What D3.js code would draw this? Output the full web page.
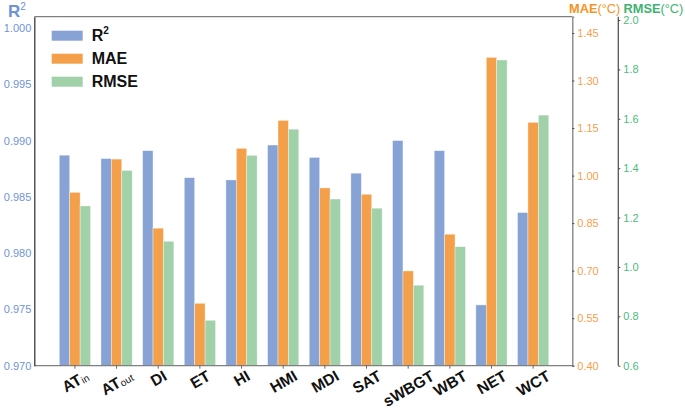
<!DOCTYPE html>
<html>
<head>
<meta charset="utf-8">
<script src="https://cdn.jsdelivr.net/npm/d3@7"></script>
<style>
  body { margin: 0; background: #fff; }
  svg { font-family: "DejaVu Sans", sans-serif; }
</style>
</head>
<body>
<div id="chart"></div>
<script>
// data
var indices = ["AT_in", "AT_out", "DI", "ET", "HI", "HMI", "MDI", "SAT", "sWBGT", "WBT", "NET", "WCT"];
var r2   = [0.9887, 0.9884, 0.9891, 0.9867, 0.9865, 0.9896, 0.9885, 0.9871, 0.9900, 0.9891, 0.9754, 0.9836];
var mae  = [0.947, 1.052, 0.834, 0.597, 1.086, 1.174, 0.961, 0.941, 0.699, 0.815, 1.373, 1.168];
var rmse = [1.247, 1.391, 1.104, 0.784, 1.452, 1.558, 1.275, 1.238, 0.926, 1.082, 1.838, 1.615];
var r2Ticks   = [0.970, 0.975, 0.980, 0.985, 0.990, 0.995, 1.000];
var maeTicks  = [0.40, 0.55, 0.70, 0.85, 1.00, 1.15, 1.30, 1.45];
var rmseTicks = [0.6, 0.8, 1.0, 1.2, 1.4, 1.6, 1.8, 2.0];

var W = 685, H = 408;
var plotL = 34.3, plotR = 572.3, plotT = 16.7, plotB = 365.7;
var blue = "#87a3d5", orange = "#f4a04a", green = "#a1d1a9";

var svg = d3.select("#chart").append("svg")
    .attr("width", W).attr("height", H);

var x = d3.scaleLinear().domain([-0.975, 11.94]).range([plotL, plotR]);
var bw = x(0.25) - x(0);

var yR = d3.scaleLinear().domain([0.970, 1.001]).range([plotB, plotT]);
var yM = d3.scaleLinear().domain([0.40, 1.5014]).range([plotB, plotT]);
var yS = d3.scaleLinear().domain([0.6, 2.0135]).range([plotB, plotT]);

var series = [
  {vals: r2,   y: yR, base: 0.970, color: blue,   off: -0.25},
  {vals: mae,  y: yM, base: 0.40,  color: orange, off: 0},
  {vals: rmse, y: yS, base: 0.6,   color: green,  off: 0.25}
];

series.forEach(function(s) {
  svg.append("g").selectAll("rect")
    .data(s.vals)
    .enter().append("rect")
      .attr("x", function(d, i) { return x(i + s.off) - bw / 2; })
      .attr("y", function(d) { return s.y(d); })
      .attr("width", bw)
      .attr("height", function(d) { return s.y(s.base) - s.y(d); })
      .attr("fill", s.color)
      .attr("stroke", "#ffffff")
      .attr("stroke-opacity", 0.6)
      .attr("stroke-width", 0.6);
});

// frame
svg.append("line").attr("x1", plotL).attr("x2", plotR).attr("y1", plotT).attr("y2", plotT)
  .attr("stroke", "#808080").attr("stroke-width", 1.2);
svg.append("line").attr("x1", plotL).attr("x2", plotR).attr("y1", plotB).attr("y2", plotB)
  .attr("stroke", "#808080").attr("stroke-width", 1.2);

// left axis R2
var gL = svg.append("g").attr("transform", "translate(" + plotL + ",0)")
  .call(d3.axisLeft(yR).tickValues(r2Ticks).tickFormat(d3.format(".3f")).tickSize(0).tickPadding(3));
gL.select(".domain").attr("stroke", "#3a3a3a").attr("stroke-width", 1.3);
gL.selectAll("text").attr("fill", "#7094d4").attr("font-size", 11);

// right axis MAE
var gM = svg.append("g").attr("transform", "translate(" + plotR + ",0)")
  .call(d3.axisRight(yM).tickValues(maeTicks).tickFormat(d3.format(".2f")).tickSize(2).tickPadding(3));
gM.select(".domain").attr("stroke", "#808080").attr("stroke-width", 1.3);
gM.selectAll(".tick line").attr("stroke", "#444");
gM.selectAll("text").attr("fill", "#f6a04c").attr("font-size", 11);

// outer axis RMSE
var gS = svg.append("g").attr("transform", "translate(618.3,0)")
  .call(d3.axisRight(yS).tickValues(rmseTicks).tickFormat(d3.format(".1f")).tickSize(2).tickPadding(3));
gS.select(".domain").attr("stroke", "#555").attr("stroke-width", 1.3)
  .attr("d", "M0," + plotT + "V" + plotB);
gS.selectAll(".tick line").attr("stroke", "#444");
gS.selectAll("text").attr("fill", "#4cbb7c").attr("font-size", 11);

// x ticks and rotated labels
var gX = svg.append("g");
indices.forEach(function(name, i) {
  var tx = x(i);
  gX.append("line").attr("x1", tx).attr("x2", tx).attr("y1", plotB).attr("y2", plotB + 3)
    .attr("stroke", "#444").attr("stroke-width", 0.8);
  var parts = name.split("_");
  var t = gX.append("text")
    .attr("font-family", "'Liberation Sans', Arial, sans-serif")
    .attr("font-weight", "bold").attr("font-size", 15.5)
    .attr("fill", "#111")
    .attr("text-anchor", "middle")
    .attr("dominant-baseline", "central");
  t.append("tspan").text(parts[0]);
  if (parts[1]) {
    t.append("tspan").attr("font-size", 10).attr("font-weight", "normal")
      .attr("dy", 3).text(parts[1]);
  }
  var bb = t.node().getBBox();
  var h = bb.width * 0.5 + 13 * 0.866;
  var cy = plotB + 2.5 + h / 2;
  t.attr("transform", "translate(" + tx + "," + cy + ") rotate(-30)");
});

// axis titles
var tR = svg.append("text").attr("x", 8).attr("y", 17)
  .attr("font-family", "'Liberation Sans', Arial, sans-serif")
  .attr("font-weight", "bold").attr("font-size", 17).attr("fill", "#6f93d3");
tR.append("tspan").text("R");
tR.append("tspan").attr("font-size", 10).attr("font-weight", "normal").attr("dy", -7).text("2");

var tM = svg.append("text").attr("x", 569).attr("y", 12.5)
  .attr("font-family", "'Liberation Sans', Arial, sans-serif")
  .attr("font-size", 12.8).attr("fill", "#f7931e");
tM.append("tspan").attr("font-weight", "bold").text("MAE");
tM.append("tspan").text("(°C)");

var tS = svg.append("text").attr("x", 623.5).attr("y", 12.5)
  .attr("font-family", "'Liberation Sans', Arial, sans-serif")
  .attr("font-size", 12.8).attr("fill", "#3cb371");
tS.append("tspan").attr("font-weight", "bold").text("RMSE");
tS.append("tspan").text("(°C)");

// legend
var legendItems = [
  {label: "R", sup: "2", color: blue},
  {label: "MAE", color: orange},
  {label: "RMSE", color: green}
];
var lg = svg.append("g");
legendItems.forEach(function(d, i) {
  var yy = 30.7 + i * 23;
  lg.append("rect").attr("x", 51.7).attr("y", yy).attr("width", 31).attr("height", 10)
    .attr("fill", d.color);
  var t = lg.append("text").attr("x", 91.7).attr("y", yy + 10.5)
    .attr("font-family", "'Liberation Sans', Arial, sans-serif")
    .attr("font-weight", "bold").attr("font-size", 16).attr("fill", "#111");
  t.append("tspan").text(d.label);
  if (d.sup) t.append("tspan").attr("font-size", 10).attr("dy", -7).text(d.sup);
});
</script>
</body>
</html>
